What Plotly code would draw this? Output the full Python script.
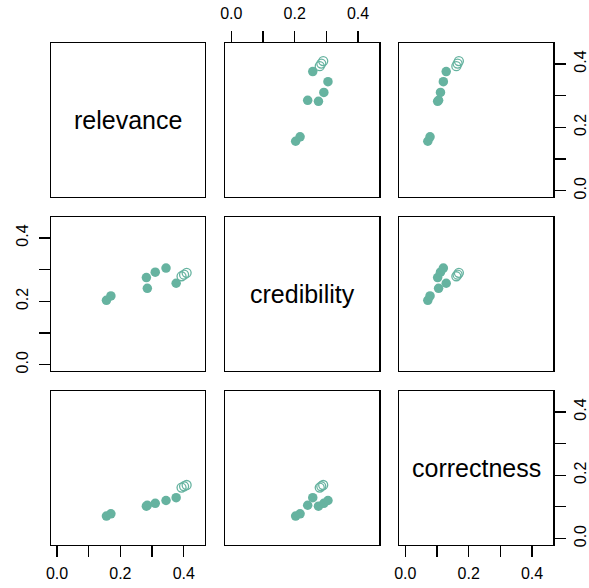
import plotly.graph_objects as go

# data
var_names = ["relevance", "credibility", "correctness"]
relevance = [0.156, 0.170, 0.282, 0.285, 0.310, 0.344, 0.376, 0.393, 0.401, 0.409]
credibility = [0.203, 0.217, 0.275, 0.241, 0.292, 0.305, 0.257, 0.279, 0.284, 0.290]
correctness = [0.071, 0.078, 0.102, 0.105, 0.111, 0.120, 0.129, 0.161, 0.165, 0.169]
is_open = [False, False, False, False, False, False, False, True, True, True]
tick_vals = [0.0, 0.1, 0.2, 0.3, 0.4]
tick_text = ["0.0", "", "0.2", "", "0.4"]

data = [relevance, credibility, correctness]
COLOR = "#66B3A0"
FONT = "Liberation Sans, Arial, Helvetica, sans-serif"
W, H = 589, 588

col_px = [(51.0, 205.0), (225.3, 379.3), (399.3, 553.3)]
row_px = [(42.7, 196.7), (216.7, 370.7), (390.7, 544.5)]
rng = [-0.019, 0.467]

fig = go.Figure()
layout = dict(width=W, height=H, margin=dict(l=0, r=0, t=0, b=0, autoexpand=False),
              paper_bgcolor="white", plot_bgcolor="white", showlegend=False,
              font=dict(family=FONT, color="black", size=16))

annotations = []
for r in range(3):
    for c in range(3):
        k = 3 * r + c + 1
        xn = "xaxis" if k == 1 else f"xaxis{k}"
        yn = "yaxis" if k == 1 else f"yaxis{k}"
        xref = "x" if k == 1 else f"x{k}"
        yref = "y" if k == 1 else f"y{k}"
        base = dict(range=rng, showgrid=False, zeroline=False, showline=True,
                    mirror=True, linecolor="black", linewidth=1.2, automargin=False,
                    ticks="", showticklabels=False, fixedrange=True)
        xa = dict(base, domain=[col_px[c][0] / W, col_px[c][1] / W], anchor=yref)
        ya = dict(base, domain=[1 - row_px[r][1] / H, 1 - row_px[r][0] / H], anchor=xref)
        tickstyle = dict(ticks="outside", ticklen=11, tickwidth=1.2, tickcolor="black",
                         showticklabels=True, tickvals=tick_vals, ticktext=tick_text,
                         tickfont=dict(family=FONT, size=16, color="black"))
        if r == 0 and c == 1:
            xa.update(tickstyle, side="top", ticklabelstandoff=5)
        if r == 2 and c in (0, 2):
            xa.update(tickstyle, side="bottom", ticklabelstandoff=3)
        if c == 0 and r == 1:
            ya.update(tickstyle, side="left", tickangle=-90, ticklabelstandoff=4)
        if c == 2 and r in (0, 2):
            ya.update(tickstyle, side="right", tickangle=-90, ticklabelstandoff=1)
        layout[xn] = xa
        layout[yn] = ya
        if r == c:
            fig.add_trace(go.Scatter(x=[None], y=[None], mode="markers", xaxis=xref, yaxis=yref,
                                     hoverinfo="skip"))
            annotations.append(dict(text=var_names[r], xref=xref + " domain", yref=yref + " domain",
                                    x=0.5, y=0.5, showarrow=False,
                                    font=dict(family=FONT, size=25, color="black")))
        else:
            xs = data[c]
            ys = data[r]
            fx = [x for x, o in zip(xs, is_open) if not o]
            fy = [y for y, o in zip(ys, is_open) if not o]
            ox = [x for x, o in zip(xs, is_open) if o]
            oy = [y for y, o in zip(ys, is_open) if o]
            fig.add_trace(go.Scatter(x=fx, y=fy, mode="markers", xaxis=xref, yaxis=yref,
                                     marker=dict(symbol="circle", size=9.5, color=COLOR,
                                                 line=dict(width=0)), hoverinfo="skip"))
            fig.add_trace(go.Scatter(x=ox, y=oy, mode="markers", xaxis=xref, yaxis=yref,
                                     marker=dict(symbol="circle-open", size=9, color=COLOR,
                                                 line=dict(width=1.3, color=COLOR)), hoverinfo="skip"))

layout["annotations"] = annotations
fig.update_layout(**layout)
fig.write_html("out.html", config={"staticPlot": True},
               post_script="document.body.style.margin='0';document.body.style.overflow='hidden';")
